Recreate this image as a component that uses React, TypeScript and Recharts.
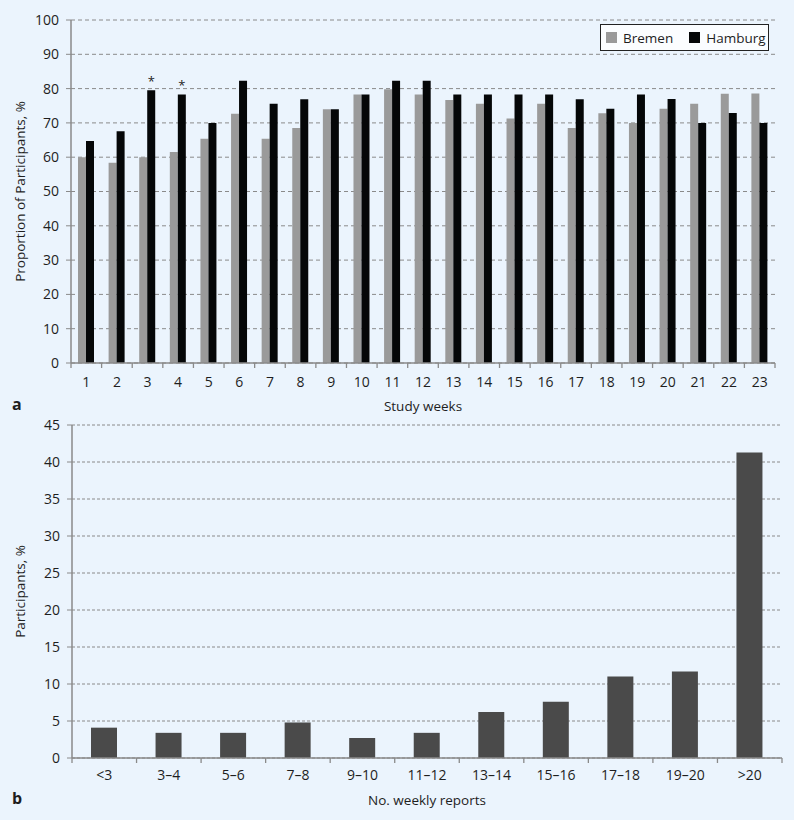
import React from "react";
import {
  BarChart,
  Bar,
  XAxis,
  YAxis,
  CartesianGrid,
  Legend,
  LabelList,
} from "recharts";

// panel a: weekly reporting by city
const weeks = ["1", "2", "3", "4", "5", "6", "7", "8", "9", "10", "11", "12", "13", "14", "15", "16", "17", "18", "19", "20", "21", "22", "23"];
const bremen = [60.0, 58.4, 60.0, 61.5, 65.4, 72.7, 65.4, 68.5, 74.0, 78.3, 79.8, 78.3, 76.7, 75.6, 71.3, 75.6, 68.5, 72.8, 70.0, 74.1, 75.6, 78.5, 78.6];
const hamburg = [64.7, 67.6, 79.5, 78.3, 70.0, 82.3, 75.6, 76.9, 74.0, 78.3, 82.3, 82.3, 78.3, 78.3, 78.3, 78.3, 76.9, 74.1, 78.3, 77.0, 70.0, 72.9, 70.0];
const significantWeeks = ["3", "4"];
const weekTicks = [0, 10, 20, 30, 40, 50, 60, 70, 80, 90, 100];

// panel b: number of weekly reports per participant
const reportBins = ["<3", "3–4", "5–6", "7–8", "9–10", "11–12", "13–14", "15–16", "17–18", "19–20", ">20"];
const participants = [4.1, 3.4, 3.4, 4.8, 2.7, 3.4, 6.2, 7.6, 11.0, 11.7, 41.3];
const reportTicks = [0, 5, 10, 15, 20, 25, 30, 35, 40, 45];

const FONT = "'Open Sans', 'Noto Sans', sans-serif";
const BG = "#ebf4fd";
const AXIS = "#8a8a8a";
const TEXT = "#1e1e1e";

const weekData = weeks.map((w, i) => ({
  week: w,
  Bremen: bremen[i],
  Hamburg: hamburg[i],
  star: significantWeeks.includes(w) ? "*" : "",
}));

const reportData = reportBins.map((b, i) => ({ bin: b, value: participants[i] }));

// category tick: label in the middle, tick mark on the category boundary
function BoundaryTick(props: any) {
  const { x, y, payload, index, visibleTicksCount, gap } = props;
  const half = payload.offset ?? 0;
  const axisY = y - gap;
  const left = x - half;
  const right = x + half;
  const last = index === visibleTicksCount - 1;
  return (
    <g>
      <line x1={left} x2={left} y1={axisY} y2={axisY + 5} stroke={AXIS} strokeWidth={1.3} />
      {last && <line x1={right} x2={right} y1={axisY} y2={axisY + 5} stroke={AXIS} strokeWidth={1.3} />}
      <text x={x} y={y} dy="0.71em" textAnchor="middle" fill={TEXT} fontSize={14} fontFamily={FONT}>
        {payload.value}
      </text>
    </g>
  );
}

function CityLegend() {
  const item = (color: string, label: string) => (
    <div style={{ display: "flex", alignItems: "center", gap: 6 }}>
      <span style={{ width: 11, height: 11, background: color, display: "inline-block" }} />
      <span>{label}</span>
    </div>
  );
  return (
    <div
      style={{
        display: "flex",
        gap: 16,
        alignItems: "center",
        border: "1.5px solid #222",
        background: "#fbfdff",
        padding: "2px 5px 2px 5px",
        fontSize: 13.5,
        fontFamily: FONT,
        color: TEXT,
        width: 157,
        height: 21,
        boxSizing: "content-box",
      }}
    >
      {item("#9a9a9a", "Bremen")}
      {item("#050708", "Hamburg")}
    </div>
  );
}

const rotatedLabel = (text: string, cx: number) => (p: any) => {
  const vb = p.viewBox;
  const cy = vb.y + vb.height / 2;
  return (
    <text
      x={cx}
      y={cy}
      transform={`rotate(-90, ${cx}, ${cy})`}
      textAnchor="middle"
      dominantBaseline="central"
      fill={TEXT}
      fontSize={13.5}
      fontFamily={FONT}
    >
      {text}
    </text>
  );
};

const bottomLabel = (text: string, dy: number) => (p: any) => {
  const vb = p.viewBox;
  return (
    <text
      x={vb.x + vb.width / 2}
      y={vb.y + dy}
      textAnchor="middle"
      fill={TEXT}
      fontSize={13.5}
      fontFamily={FONT}
    >
      {text}
    </text>
  );
};

const StarLabel = (p: any) => {
  if (!p.value) return null;
  return (
    <text x={p.x + p.width / 2} y={p.y - 4} textAnchor="middle" fill={TEXT} fontSize={13} fontFamily={FONT}>
      {p.value}
    </text>
  );
};

export default function App() {
  const tickStyle = { fill: TEXT, fontSize: 14, fontFamily: FONT };
  return (
    <div
      style={{
        position: "absolute",
        left: 0,
        top: 0,
        width: 794,
        height: 820,
        background: BG,
        fontFamily: FONT,
        overflow: "hidden",
      }}
    >
      <div style={{ position: "absolute", left: 0, top: 0 }}>
        <BarChart
          width={794}
          height={420}
          data={weekData}
          margin={{ top: 20, right: 19, left: 0, bottom: 0 }}
          barGap={0}
          barSize={8}
        >
          <CartesianGrid vertical={false} stroke={AXIS} strokeDasharray="4 3" />
          <XAxis
            dataKey="week"
            height={57}
            axisLine={{ stroke: AXIS, strokeWidth: 1.5 }}
            tickLine={false}
            tickSize={5}
            tickMargin={9}
            interval={0}
            tick={<BoundaryTick gap={14} />}
            label={{ content: bottomLabel("Study weeks", 48) }}
          />
          <YAxis
            width={71}
            domain={[0, 100]}
            ticks={weekTicks}
            interval={0}
            axisLine={{ stroke: AXIS, strokeWidth: 1.5 }}
            tickLine={{ stroke: AXIS }}
            tickSize={5}
            tickMargin={7}
            tick={tickStyle}
            label={{ content: rotatedLabel("Proportion of Participants, %", 20) }}
          />
          <Legend
            layout="horizontal"
            verticalAlign="middle"
            align="center"
            content={<CityLegend />}
            wrapperStyle={{ position: "absolute", top: 24, left: 600, width: "auto", height: "auto" }}
          />
          <Bar dataKey="Bremen" fill="#9a9a9a" isAnimationActive={false} />
          <Bar dataKey="Hamburg" fill="#050708" isAnimationActive={false}>
            <LabelList dataKey="star" content={StarLabel} />
          </Bar>
        </BarChart>
      </div>

      <div style={{ position: "absolute", left: 0, top: 400 }}>
        <BarChart
          width={794}
          height={420}
          data={reportData}
          margin={{ top: 25, right: 12, left: 0, bottom: 0 }}
          barSize={26}
        >
          <CartesianGrid vertical={false} stroke={AXIS} strokeDasharray="3 2" />
          <XAxis
            dataKey="bin"
            height={62}
            axisLine={{ stroke: AXIS, strokeWidth: 1.5 }}
            tickLine={false}
            tickSize={5}
            tickMargin={7}
            interval={0}
            tick={<BoundaryTick gap={12} />}
            label={{ content: bottomLabel("No. weekly reports", 47) }}
          />
          <YAxis
            width={72}
            domain={[0, 45]}
            ticks={reportTicks}
            interval={0}
            axisLine={{ stroke: AXIS, strokeWidth: 1.5 }}
            tickLine={{ stroke: AXIS }}
            tickSize={5}
            tickMargin={7}
            tick={tickStyle}
            label={{ content: rotatedLabel("Participants, %", 20) }}
          />
          <Bar dataKey="value" fill="#4a4a4a" isAnimationActive={false} />
        </BarChart>
      </div>

      <div style={{ position: "absolute", left: 12, top: 393, fontSize: 16, fontWeight: 700, color: TEXT }}>a</div>
      <div style={{ position: "absolute", left: 12, top: 787, fontSize: 16, fontWeight: 700, color: TEXT }}>b</div>
    </div>
  );
}
